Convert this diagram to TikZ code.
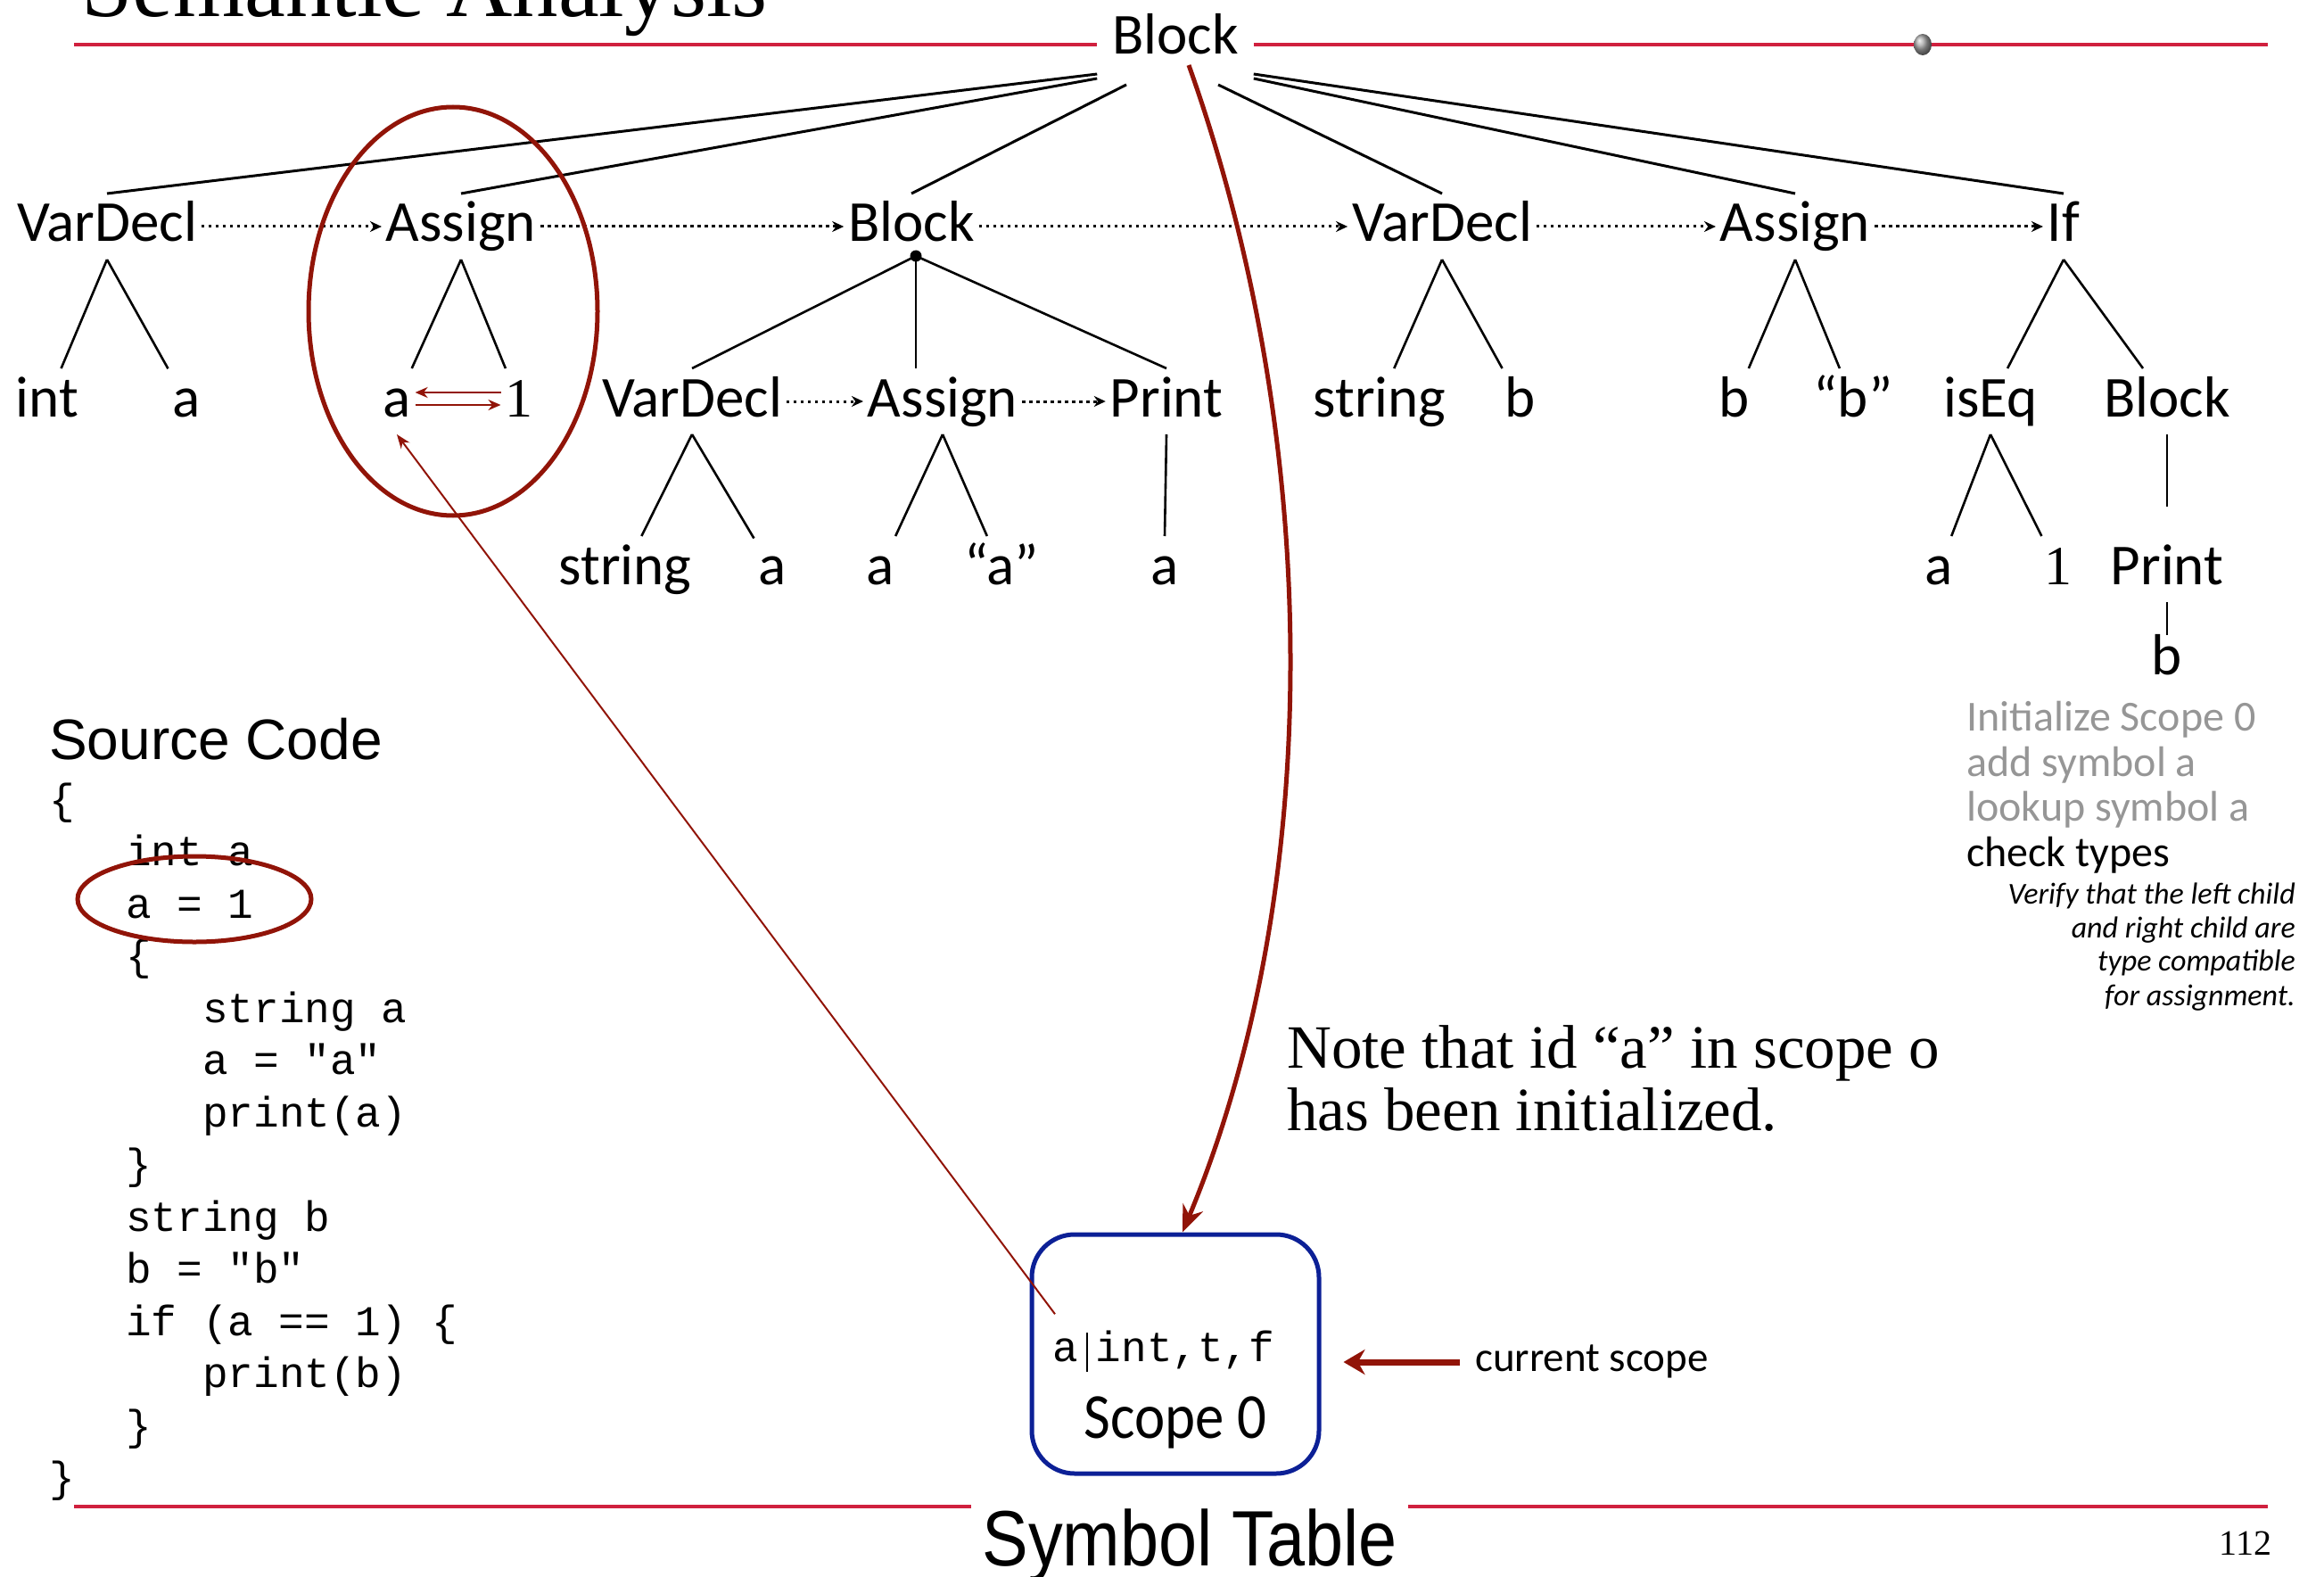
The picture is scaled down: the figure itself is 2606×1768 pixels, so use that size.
\documentclass[tikz,border=0pt]{standalone}
\usepackage{fontspec}
\setmonofont{Liberation Mono}
\newfontfamily\gill{Carlito}
\newfontfamily\gillc{Carlito}[FakeStretch=0.9]
\newfontfamily\helv{Liberation Sans}
\newfontfamily\helvc{Liberation Sans}[FakeStretch=0.88]
\newfontfamily\tms{Liberation Serif}
\usetikzlibrary{arrows.meta,calc,shadings}
\definecolor{hdrred}{RGB}{208,32,62}
\definecolor{dkred}{RGB}{145,20,8}
\definecolor{stblue}{RGB}{12,32,150}
\definecolor{txtgrey}{RGB}{150,150,150}
\tikzset{
  tn/.style={font=\gill\fontsize{65}{70}\selectfont, text height=44pt, text depth=10pt, inner sep=0pt, outer xsep=5pt, outer ysep=10pt, anchor=base},
  tnum/.style={tn, font=\tms\fontsize{62}{70}\selectfont},
  edge/.style={line width=2.6pt},
  topedge/.style={line width=3pt},
  sib/.style={line width=3pt, dash pattern=on 3.5pt off 4.5pt, -{Stealth[length=13pt,width=12pt]}},
  redarr/.style={dkred, line width=2.5pt, -{Stealth[length=14pt,width=12pt]}},
  hdr/.style={hdrred, line width=3.5pt},
  src/.style={font=\ttfamily\fontsize{47.7}{58}\selectfont, anchor=base west, inner sep=0pt},
  note/.style={font=\gill\fontsize{48}{50}\selectfont, anchor=base west, inner sep=0pt},
  notei/.style={font=\gill\itshape\fontsize{34}{38}\selectfont, anchor=base east, inner sep=0pt},
  serifnote/.style={font=\tms\fontsize{69}{70}\selectfont, anchor=base west, inner sep=0pt}
}
\begin{document}
\begin{tikzpicture}[x=1pt,y=-1pt]
\useasboundingbox (0,0) rectangle (2606,1768);

% header
\node[font=\tms\fontsize{103}{110}\selectfont, anchor=base west, inner sep=0pt] (title) at (91,19) {Semantic Analysis};
\node[tn, outer xsep=17pt, outer ysep=17pt] (top) at (1318,61) {Block};
\coordinate (hlL) at (83,50);
\coordinate (hlR) at (2543,50);
\draw[hdr] (hlL) -- (hlL -| top.west);
\draw[hdr] (hlL -| top.east) -- (hlR);
\shade[ball color=gray!70] (2156,50) ellipse [x radius=10, y radius=12];

% row 1
\node[tn] (v1) at (120,271) {VarDecl};
\node[tn] (as1) at (517,271) {Assign};
\node[tn] (b1) at (1022,271) {Block};
\node[tn] (v2) at (1617,271) {VarDecl};
\node[tn] (as2) at (2013,271) {Assign};
\node[tn] (if) at (2314,271) {If};

% row 2
\node[tn] (int) at (53,467) {int};
\node[tn] (va) at (209,467) {a};
\node[tn] (aa) at (445,467) {a};
\node[tnum] (one) at (582,467) {1};
\node[tn] (v3) at (776,467) {VarDecl};
\node[tn] (as3) at (1057,467) {Assign};
\node[tn] (pr3) at (1308,467) {Print};
\node[tn] (str2) at (1547,467) {string};
\node[tn] (vb) at (1705,467) {b};
\node[tn] (bb) at (1945,467) {b};
\node[tn] (bq) at (2078,467) {“b”};
\node[tn] (iseq) at (2232,467) {isEq};
\node[tn] (b2) at (2430,467) {Block};

% row 3
\node[tn] (str3) at (701,655) {string};
\node[tn] (sa) at (866,655) {a};
\node[tn] (asa) at (987,655) {a};
\node[tn] (aq) at (1123,655) {“a”};
\node[tn] (pa) at (1306,655) {a};
\node[tn] (ea) at (2174,655) {a};
\node[tnum] (eone) at (2308,655) {1};
\node[tn] (pr4) at (2430,655) {Print};
% row 4
\node[tn] (pb) at (2430,756) {b};

\node[circle, fill, inner sep=0pt, minimum size=13pt] (bdot) at (1027,287) {};

% edges from top block
\draw[topedge] ([yshift=5pt]top.south west) -- (v1.north);
\draw[topedge] (top.south west) -- (as1.north);
\draw[topedge] ([xshift=-55pt,yshift=-7pt]top.south) -- (b1.north);
\draw[topedge] ([xshift=48pt,yshift=-7pt]top.south) -- (v2.north);
\draw[topedge] (top.south east) -- (as2.north);
\draw[topedge] ([yshift=5pt]top.south east) -- (if.north);

% row1 -> row2
\draw[edge] (v1.south) -- (int);
\draw[edge] (v1.south) -- (va);
\draw[edge] (as1.south) -- (aa);
\draw[edge] (as1.south) -- (one);
\draw[edge] (bdot.center) -- (v3.north);
\draw[edge] (bdot.center) -- (bdot |- as3.north);
\draw[edge] (bdot.center) -- (pr3.north);
\draw[edge] (v2.south) -- (str2);
\draw[edge] (v2.south) -- (vb);
\draw[edge] (as2.south) -- (bb);
\draw[edge] (as2.south) -- (bq);
\draw[edge] (if.south) -- (iseq);
\draw[edge] (if.south) -- (b2);

% row2 -> row3
\draw[edge] (v3.south) -- (str3);
\draw[edge] (v3.south) -- (sa);
\draw[edge] (as3.south) -- (asa);
\draw[edge] (as3.south) -- (aq);
\draw[edge] (pr3.south) -- (pa.north);
\draw[edge] (iseq.south) -- (ea);
\draw[edge] (iseq.south) -- (eone);
\draw[edge, shorten >=33pt] (b2.south) -- (pr4.north);
\draw[edge, shorten >=-10pt] (pr4.south) -- (pb.north);

% sibling links
\draw[sib] (v1.east) -- (as1.west);
\draw[sib] (as1.east) -- (b1.west);
\draw[sib] (b1.east) -- (v2.west);
\draw[sib] (v2.east) -- (as2.west);
\draw[sib] (as2.east) -- (if.west);
\draw[sib] (v3.east) -- (as3.west);
\draw[sib] (as3.east) -- (pr3.west);

% red a <-> 1
\draw[redarr] ([yshift=10pt]one.west) -- ([yshift=10pt]aa.east);
\draw[redarr] ([yshift=-4pt]aa.east) -- ([yshift=-4pt]one.west);

% red ellipse around assign
\draw[dkred, line width=5pt] (508,349) ellipse [x radius=162, y radius=229];

% source code
\node[font=\helv\fontsize{64}{70}\selectfont, anchor=base west, inner sep=0pt] (srchead) at (55,851) {Source Code};
\node[src] (s1) at (55,912) {\{};
\node[src] (s2) at (141,970.5) {int a};
\node[src] (s3) at (141,1029) {a = 1};
\node[src] (s4) at (141,1087.5) {\{};
\node[src] (s5) at (227,1146) {string a};
\node[src] (s6) at (227,1204.5) {a = "a"};
\node[src] (s7) at (227,1263) {print(a)};
\node[src] (s8) at (141,1321.5) {\}};
\node[src] (s9) at (141,1380) {string b};
\node[src] (s10) at (141,1438.5) {b = "b"};
\node[src] (s11) at (141,1497) {if (a == 1) \{};
\node[src] (s12) at (227,1555.5) {print(b)};
\node[src] (s13) at (141,1614) {\}};
\node[src] (s14) at (55,1672.5) {\}};
\draw[dkred, line width=5pt] (218,1008) ellipse [x radius=131, y radius=48];

% right notes
\node[note, txtgrey] (n1) at (2205,819) {Initialize Scope 0};
\node[note, txtgrey] (n2) at (2205,870) {add symbol a};
\node[note, txtgrey] (n3) at (2205,920) {lookup symbol a};
\node[note] (n4) at (2205,971) {check types};
\node[notei] (n5) at (2574,1013) {Verify that the left child};
\node[notei] (n6) at (2574,1051) {and right child are};
\node[notei] (n7) at (2574,1088) {type compatible};
\node[notei] (n8) at (2574,1127) {for assignment.};

\node[serifnote] (m1) at (1443,1197) {Note that id “a” in scope o};
\node[serifnote] (m2) at (1443,1267) {has been initialized.};

% symbol table
\node[draw=stblue, line width=5pt, rounded corners=48pt, minimum width=322pt, minimum height=268pt, inner sep=0pt] (symtab) at (1318,1518) {};
\node[font=\ttfamily\fontsize{47.7}{50}\selectfont, inner sep=0pt, anchor=base west] (entry) at (1180,1526) {a\hspace{9pt}\rule[-12pt]{2pt}{44pt}\hspace{9pt}int,t,f};
\node[font=\gillc\fontsize{72}{80}\selectfont, inner sep=0pt, anchor=base] (scope) at (1318,1612) {Scope 0};
\node[font=\gill\fontsize{47}{50}\selectfont, inner sep=0pt, text height=30pt, text depth=10pt, anchor=base west] (cs) at (1654,1537) {current scope};
\draw[dkred, line width=7pt, -{Stealth[length=24pt,width=28pt]}] ([xshift=-17pt]cs.west) -- ($(cs.west -| symtab.east)+(25,0)$);

\draw[dkred, line width=2pt, -{Stealth[length=16pt,width=12pt]}] ([xshift=3pt,yshift=18pt]entry.north west) -- (aa.south);
\draw[dkred, line width=5pt, -{Stealth[length=30pt,width=24pt]}] ([xshift=15pt,yshift=15pt]top.south) .. controls (1485,500) and (1485,1000) .. ([xshift=8pt]symtab.north);

% footer
\node[font=\helvc\fontsize{88}{90}\selectfont, inner sep=0pt, outer xsep=13pt, anchor=base] (stl) at (1334,1755) {Symbol Table};
\coordinate (blL) at (83,1689);
\coordinate (blR) at (2543,1689);
\draw[hdr] (blL) -- (blL -| stl.west);
\draw[hdr] (blL -| stl.east) -- (blR);
\node[font=\tms\fontsize{40}{44}\selectfont, anchor=base, inner sep=0pt] (pg) at (2518,1743) {112};
\end{tikzpicture}
\end{document}
